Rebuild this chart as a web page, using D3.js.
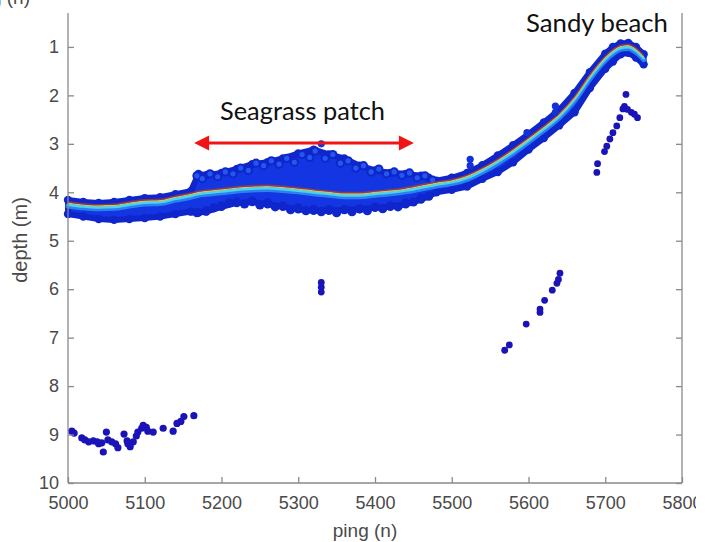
<!DOCTYPE html>
<html><head><meta charset="utf-8">
<script src="https://cdn.jsdelivr.net/npm/d3@7"></script>
<style>body{margin:0;background:#fff} svg{display:block}</style>
</head><body>
<svg id="c" width="713" height="542"></svg>
<script>
// ---- data ----
const xTicks = [5000, 5100, 5200, 5300, 5400, 5500, 5600, 5700, 5800];
const yTicks = [1, 2, 3, 4, 5, 6, 7, 8, 9, 10];

const profilePing = [5000,5020,5040,5060,5080,5100,5120,5140,5160,5170,5180,5200,5220,5240,5260,5280,5300,5320,5340,5360,5380,5400,5420,5440,5460,5470,5480,5500,5520,5540,5560,5580,5600,5620,5640,5660,5680,5700,5710,5720,5730,5740,5750];
const surfaceDepth = [4.22,4.26,4.28,4.27,4.22,4.18,4.17,4.10,4.04,4.00,3.98,3.95,3.91,3.89,3.88,3.90,3.93,3.97,4.00,4.03,4.03,4.00,3.97,3.93,3.87,3.84,3.81,3.76,3.67,3.52,3.34,3.13,2.90,2.66,2.40,2.05,1.60,1.22,1.08,0.99,0.97,1.05,1.20];
const bandTop = [4.16,4.20,4.22,4.20,4.16,4.12,4.10,4.04,3.98,3.62,3.65,3.60,3.52,3.42,3.38,3.30,3.20,3.12,3.22,3.30,3.45,3.55,3.60,3.62,3.66,3.70,3.76,3.70,3.60,3.44,3.24,3.03,2.80,2.56,2.30,1.95,1.52,1.14,1.00,0.93,0.92,1.00,1.15];
const bandBottom = [4.45,4.50,4.55,4.57,4.55,4.53,4.50,4.45,4.40,4.42,4.40,4.30,4.22,4.20,4.25,4.30,4.35,4.38,4.38,4.36,4.35,4.32,4.30,4.25,4.15,4.08,4.00,3.95,3.88,3.72,3.58,3.38,3.12,2.88,2.62,2.35,1.85,1.45,1.30,1.15,1.12,1.22,1.36];

// lumpy seagrass canopy outline (top and bottom)
const grassTopPing  = [5168,5175,5185,5195,5205,5215,5225,5235,5245,5255,5265,5275,5285,5295,5305,5315,5322,5335,5345,5355,5365,5375,5385,5395,5405,5415,5425,5435,5445,5455,5465,5475];
const grassTopDepth = [3.66,3.72,3.62,3.68,3.58,3.62,3.50,3.55,3.40,3.45,3.35,3.42,3.30,3.38,3.22,3.28,3.15,3.30,3.22,3.40,3.35,3.50,3.45,3.58,3.52,3.62,3.58,3.65,3.60,3.70,3.66,3.75];
const grassBotPing  = [5168,5180,5190,5200,5210,5220,5230,5240,5250,5260,5270,5280,5290,5300,5310,5320,5330,5340,5350,5360,5370,5380,5390,5400,5410,5420,5430,5440,5450,5460,5470];
const grassBotDepth = [4.42,4.38,4.32,4.28,4.22,4.20,4.24,4.18,4.26,4.22,4.30,4.28,4.36,4.32,4.38,4.35,4.40,4.36,4.42,4.36,4.40,4.34,4.38,4.30,4.34,4.28,4.30,4.22,4.20,4.12,4.08];

// spikes on the bottom band
const spikePing  = [5524, 5524, 5598, 5635, 5635, 5330];
const spikeDepth = [3.32, 3.45, 2.77, 2.22, 2.35, 3.00];

// deep noise cluster (left)
const deepPing  = [5005,5008,5018,5022,5027,5033,5038,5040,5046,5044,5050,5052,5057,5062,5065,5073,5077,5078,5081,5085,5089,5091,5096,5098,5102,5104,5111,5124,5137,5142,5147,5151,5164];
const deepDepth = [8.93,8.97,9.07,9.11,9.15,9.13,9.15,9.19,9.36,9.17,8.95,9.11,9.15,9.19,9.27,8.99,9.13,9.19,9.25,9.15,9.03,8.95,8.87,8.81,8.85,8.93,8.95,8.87,8.93,8.77,8.73,8.63,8.61];

// column at ping 5330
const colPing  = [5330, 5330, 5330];
const colDepth = [5.86, 5.96, 6.06];

// multiple reflection line
const multiPing  = [5569,5575,5597,5615,5615,5621,5631,5637,5639,5641];
const multiDepth = [7.26,7.15,6.72,6.48,6.41,6.23,6.02,5.88,5.80,5.67];

// second echo near beach
const echoPing  = [5727,5689,5690,5699,5702,5706,5710,5715,5719,5723,5725,5729,5734,5738,5742];
const echoDepth = [1.98,3.59,3.41,3.16,3.05,2.90,2.77,2.63,2.46,2.28,2.23,2.29,2.35,2.39,2.46];

// ---- chart ----
const svg = d3.select("#c");
const x = d3.scaleLinear().domain([5000, 5800]).range([68, 682]);
const y = d3.scaleLinear().domain([0.3, 10]).range([13, 483]);
const axisColor = "#8a8a8a";
const tickFont = "'Liberation Sans', Arimo, Arial, sans-serif";
const bandBlue = "#1436e2", edgeBlue = "#0f26cc";

const prof = profilePing.map((p, i) => ({p, s: surfaceDepth[i], t: bandTop[i], b: bandBottom[i]}));

const area = d3.area().x(d => x(d.p)).y0(d => y(d.b)).y1(d => y(d.t)).curve(d3.curveLinear);
const line = d3.line().x(d => x(d.p)).y(d => y(d.s)).curve(d3.curveMonotoneX);

const g = svg.append("g");
g.append("path").datum(prof).attr("d", area)
  .attr("fill", bandBlue).attr("stroke", edgeBlue).attr("stroke-width", 6).attr("stroke-linejoin", "round");

function dots(ps, ds, color, r) {
  g.append("g").selectAll("circle").data(ps.map((p, i) => [p, ds[i]])).join("circle")
    .attr("cx", d => x(d[0])).attr("cy", d => y(d[1])).attr("r", r).attr("fill", color);
}
// lumpy edges of the band
dots(profilePing, bandTop, edgeBlue, 4.2);
dots(profilePing, bandBottom, edgeBlue, 4.2);
dots(grassTopPing, grassTopDepth, edgeBlue, 4.6);
dots(grassBotPing, grassBotDepth, edgeBlue, 4.6);
// lighter speckle inside the canopy
dots(grassTopPing, grassTopDepth.map(d => d), "#2458ea", 2.6);

g.append("path").datum(prof).attr("d", line).attr("transform", "translate(0,3)")
  .attr("fill", "none").attr("stroke", "#2a82f2").attr("stroke-width", 5).attr("stroke-linecap", "round");
g.append("path").datum(prof).attr("d", line).attr("transform", "translate(0,1.8)")
  .attr("fill", "none").attr("stroke", "#48d4f0").attr("stroke-width", 2.4).attr("stroke-linecap", "round");
g.append("path").datum(prof).attr("d", line).attr("transform", "translate(0,0.2)")
  .attr("fill", "none").attr("stroke", "#c2c86a").attr("stroke-width", 1.4);
g.append("path").datum(prof).attr("d", line).attr("transform", "translate(0,-1.2)")
  .attr("fill", "none").attr("stroke", "#b33a2c").attr("stroke-width", 1.4).attr("opacity", 0.8);

dots(spikePing, spikeDepth, "#1430d8", 3.6);
dots(deepPing, deepDepth, "#1a14b8", 3.6);
dots(colPing, colDepth, "#1a14b8", 3.4);
dots(multiPing, multiDepth, "#1a14b8", 3.4);
dots(echoPing, echoDepth, "#1a14b8", 3.4);

// axes
const ax = svg.append("g").attr("transform", "translate(0,483)")
  .call(d3.axisBottom(x).tickValues(xTicks).tickFormat(d3.format("d")).tickSize(-6).tickPadding(13));
const ay = svg.append("g").attr("transform", "translate(68,0)")
  .call(d3.axisLeft(y).tickValues(yTicks).tickFormat(d3.format("d")).tickSize(-6).tickPadding(9));
const ay2 = svg.append("g").attr("transform", "translate(682,0)")
  .call(d3.axisRight(y).tickValues(yTicks).tickFormat("").tickSize(-6));
[ax, ay, ay2].forEach(a => {
  a.attr("font-family", null).attr("font-size", null);
  a.select(".domain").attr("stroke", axisColor).attr("stroke-width", 1.3);
  a.selectAll(".tick line").attr("stroke", axisColor).attr("stroke-width", 1.3);
  a.selectAll(".tick text").attr("fill", "#4a4a4a").style("font-family", tickFont).style("font-size", "18px");
});
ax.select(".domain").attr("d", "M68,0H682");
ay.select(".domain").attr("d", "M0,13V483");
ay2.select(".domain").attr("d", "M0,13V483");

svg.append("text").attr("x", 365).attr("y", 537).attr("text-anchor", "middle")
  .attr("fill", "#4a4a4a").style("font-family", tickFont).style("font-size", "19px").text("ping (n)");
svg.append("text").attr("transform", "translate(27,240) rotate(-90)").attr("text-anchor", "middle")
  .attr("fill", "#4a4a4a").style("font-family", tickFont).style("font-size", "20px").text("depth (m)");
svg.append("text").attr("x", 30).attr("y", 4).attr("text-anchor", "end")
  .attr("fill", "#4a4a4a").style("font-family", tickFont).style("font-size", "19px").text("ping (n)");

// annotations
const annFont = "Lato, 'Open Sans', sans-serif";
function fitText(txt, xl, xr, base, size) {
  const t = svg.append("text").attr("x", (xl + xr) / 2).attr("y", base).attr("text-anchor", "middle")
    .attr("fill", "#111").style("font-family", annFont).style("font-size", size + "px").text(txt);
  const w = t.node().getComputedTextLength();
  if (w > 0) t.style("font-size", (size * (xr - xl) / w).toFixed(2) + "px");
}
fitText("Seagrass patch", 220, 385, 120, 22);
fitText("Sandy beach", 526, 668, 32, 22);

// red double arrow
const ay0 = 143;
const xa = 5165, xb = 5450;
svg.append("line").attr("x1", x(xa) + 10).attr("x2", x(xb) - 10).attr("y1", ay0).attr("y2", ay0)
  .attr("stroke", "#f01414").attr("stroke-width", 3.2);
svg.append("path").attr("fill", "#f01414")
  .attr("d", `M${x(xa) - 0.5},${ay0} l15,-7.5 l0,15 Z M${x(xb) + 0.5},${ay0} l-15,-7.5 l0,15 Z`);

// the source image is cropped on the right edge
svg.append("rect").attr("x", 696).attr("y", 470).attr("width", 17).attr("height", 72).attr("fill", "#fff");
</script></body></html>
